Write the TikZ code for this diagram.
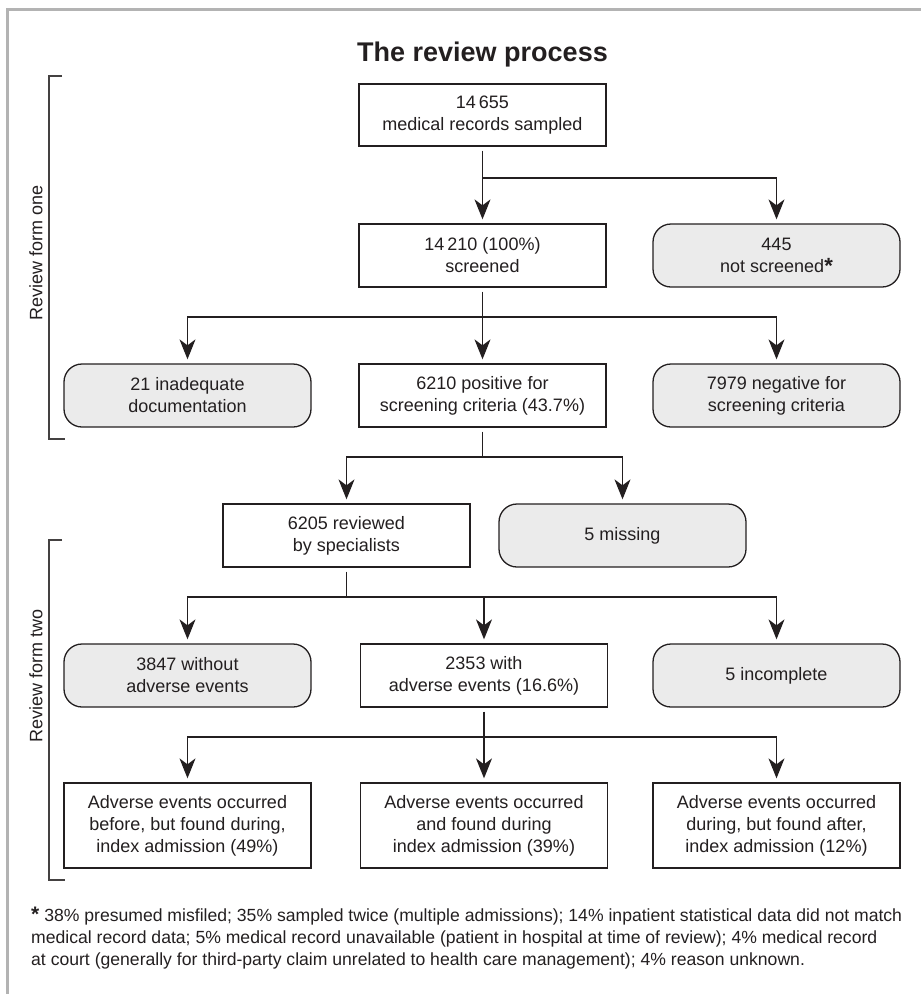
\documentclass[tikz,border=0pt]{standalone}
\usepackage{fontspec}
\setmainfont{Liberation Sans}
\usetikzlibrary{arrows.meta}
\definecolor{ink}{HTML}{231F20}
\definecolor{boxgray}{HTML}{EBEBEB}
\definecolor{framegray}{HTML}{B3B3B3}
\newcommand{\bodyfont}{\fontsize{18}{22}\selectfont}
\newcommand{\notefont}{\fontsize{17.6}{21.5}\selectfont}
\tikzset{
  box/.style={draw=ink, line width=1.3pt, fill=white, minimum width=247pt,
    minimum height=63pt, align=center, inner sep=2pt, font=\bodyfont, text=ink},
  gbox/.style={box, fill=boxgray, rounded corners=18pt},
  conn/.style={draw=ink, line width=1.3pt, shorten <=4pt},
  arr/.style={draw=ink, line width=1.3pt, shorten >=4pt,
    -{Stealth[length=20pt,width=16pt,inset=6pt]}},
  arrs/.style={arr, shorten <=4pt},
  bracketline/.style={draw=ink!85, line width=1.5pt},
  sidelabel/.style={rotate=90, font=\bodyfont, text=ink, inner sep=0pt},
  notetext/.style={anchor=base west, font=\notefont, text=ink, inner sep=0pt}
}
\begin{document}
\begin{tikzpicture}[x=1pt, y=-1pt]
\useasboundingbox (0,0) rectangle (921,994);
% frame
\draw[framegray, line width=3pt] (7,994) -- (7,9) -- (921,9);
% title
\node[anchor=base, font=\bfseries\fontsize{27}{32}\selectfont, text=ink, inner sep=0pt] (title) at (482.5,61) {The review process};
% brackets
\draw[bracketline] (62,76) -- (49,76) -- (49,439) -- (65,439);
\draw[bracketline] (62,540) -- (49,540) -- (49,880) -- (65,880);
\node[sidelabel] (lab1) at (36,253) {Review form one};
\node[sidelabel] (lab2) at (36,676) {Review form two};
% row 1
\node[box, minimum height=62pt] (sampled) at (482.5,115) {14\,655\\medical records sampled};
\node[box] (screened) at (482.5,255.5) {14\,210 (100\%)\\screened};
\node[gbox] (notscr) at (776.5,255.5) {445\\not screened\textbf{\raisebox{-0.1ex}{\fontsize{22}{21}\selectfont *}}};
% row 2
\node[gbox] (inadeq) at (187.5,395.5) {21 inadequate\\documentation};
\node[box] (positive) at (482.5,395.5) {6210 positive for\\screening criteria (43.7\%)};
\node[gbox] (negative) at (776.5,395.5) {7979 negative for\\screening criteria};
% row 3
\node[box] (reviewed) at (346.5,535.5) {6205 reviewed\\by specialists};
\node[gbox] (missing) at (622.5,535.5) {5 missing};
% row 4
\node[gbox] (without) at (187.5,675.5) {3847 without\\adverse events};
\node[box] (with) at (484,675.5) {2353 with\\adverse events (16.6\%)};
\node[gbox] (incomplete) at (776.5,675.5) {5 incomplete};
% row 5
\node[box, minimum height=85pt] (before) at (187.5,825.5) {Adverse events occurred\\before, but found during,\\index admission (49\%)};
\node[box, minimum height=85pt] (during) at (484,825.5) {Adverse events occurred\\and found during\\index admission (39\%)};
\node[box, minimum height=85pt] (after) at (776.5,825.5) {Adverse events occurred\\during, but found after,\\index admission (12\%)};
% junctions
\coordinate (j1) at (482.5,178);
\coordinate (j2) at (482.5,317);
\coordinate (j3) at (482.5,457);
\coordinate (j4) at (346.5,597);
\coordinate (j5) at (484,737);
% connectors
\draw[arrs] (sampled) -- (screened);
\draw[arr] (j1) -| (notscr);
\draw[conn] (screened) -- (j2);
\draw[arr] (j2) -- (positive);
\draw[arr] (j2) -| (inadeq);
\draw[arr] (j2) -| (negative);
\draw[conn] (positive) -- (j3);
\draw[arr] (j3) -| (reviewed);
\draw[arr] (j3) -| (missing);
\draw[conn] (reviewed) -- (j4);
\draw[arr] (j4) -| (without);
\draw[arr] (j4) -| (with);
\draw[arr] (j4) -| (incomplete);
\draw[conn] (with) -- (j5);
\draw[arr] (j5) -| (before);
\draw[arr] (j5) -- (during);
\draw[arr] (j5) -| (after);
% footnote
\node[notetext] (fn1) at (31,921) {{\bfseries\fontsize{21}{21}\selectfont *} 38\% presumed misfiled; 35\% sampled twice (multiple admissions); 14\% inpatient statistical data did not match};
\node[notetext] (fn2) at (31,943) {medical record data; 5\% medical record unavailable (patient in hospital at time of review); 4\% medical record};
\node[notetext] (fn3) at (31,965) {at court (generally for third-party claim unrelated to health care management); 4\% reason unknown.};
\end{tikzpicture}
\end{document}
